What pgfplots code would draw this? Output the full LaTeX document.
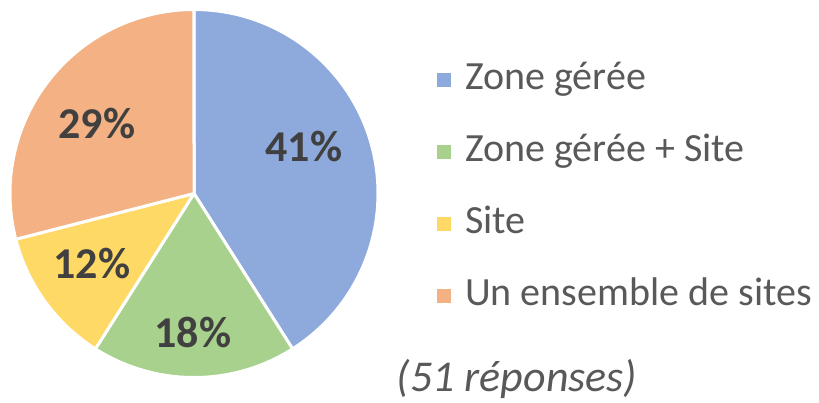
\documentclass[border=0pt]{standalone}
\usepackage{pgfplots}
\pgfplotsset{compat=1.18}
\usepackage{fontspec}
\setmainfont{Carlito}
\definecolor{pieblue}{HTML}{8EA9DB}
\definecolor{piegreen}{HTML}{A9D18E}
\definecolor{pieyellow}{HTML}{FFD966}
\definecolor{pieorange}{HTML}{F4B183}
\definecolor{lbltext}{HTML}{404040}
\definecolor{legtext}{HTML}{595959}
\newcommand\lblfont{\fontsize{44}{50}\selectfont\bfseries}
\newcommand\legfont{\fontsize{40}{47}\selectfont}
\begin{document}
\begin{tikzpicture}
\begin{axis}[
  x=1pt, y=1pt, y dir=reverse,
  xmin=0, xmax=819, ymin=0, ymax=402,
  hide axis, clip=false,
  wedge/.style={fill=#1, draw=white, line width=3pt, line join=round},
  legend image code/.code={\fill[#1, draw=none] (0pt,-7pt) rectangle (14pt,7pt);},
  legend style={draw=none, fill=none, at={(axis cs:437,62)}, anchor=north west,
    inner sep=0pt, row sep=36pt, column sep=14pt, font=\legfont, text=legtext,
    nodes={inner sep=0pt, text height=27pt, text depth=9pt}},
  legend cell align=left,
]
% shares: 41, 18, 12, 29 % -> 3.6 degrees per percent, clockwise from the top
\addplot[wedge=pieblue] coordinates {(194,193.5) (194,9.5)}
  arc[start angle=90, delta angle=-147.6, radius=184pt] -- cycle;
\addlegendentry{Zone gérée}
\addplot[wedge=piegreen] coordinates {(194,193.5) (292.59,348.86)}
  arc[start angle=-57.6, delta angle=-64.8, radius=184pt] -- cycle;
\addlegendentry{Zone gérée + Site}
\addplot[wedge=pieyellow] coordinates {(194,193.5) (95.41,348.86)}
  arc[start angle=-122.4, delta angle=-43.2, radius=184pt] -- cycle;
\addlegendentry{Site}
\addplot[wedge=pieorange] coordinates {(194,193.5) (15.78,239.26)}
  arc[start angle=-165.6, delta angle=-104.4, radius=184pt] -- cycle;
\addlegendentry{Un ensemble de sites}
\node[font=\lblfont, text=lbltext] at (axis cs:304,147) {41\%};
\node[font=\lblfont, text=lbltext] at (axis cs:193,332) {18\%};
\node[font=\lblfont, text=lbltext] at (axis cs:92,264) {12\%};
\node[font=\lblfont, text=lbltext] at (axis cs:97,124) {29\%};
\node[font=\legfont\itshape, text=legtext, scale=1.1] at (axis cs:517,379) {(51 réponses)};
\end{axis}
\pgfresetboundingbox
\path[use as bounding box] (0,0) rectangle (819pt,402pt);
\end{tikzpicture}
\end{document}
